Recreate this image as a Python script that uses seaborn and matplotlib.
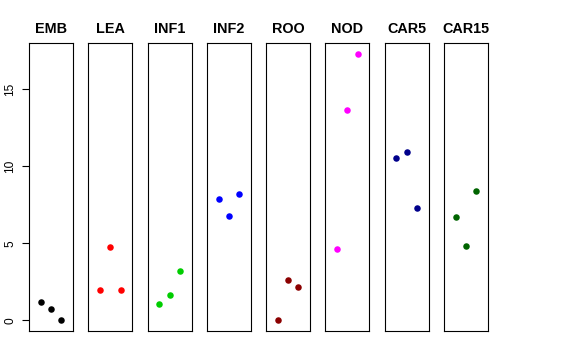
import matplotlib
matplotlib.use('Agg')
import matplotlib.pyplot as plt
import seaborn as sns
import pandas as pd

# 조직별 값 (반복 3개)
tissues = ['EMB', 'LEA', 'INF1', 'INF2', 'ROO', 'NOD', 'CAR5', 'CAR15']
colors = ['black', 'red', '#00CD00', 'blue', '#8B0000', 'magenta', '#00008B', '#006400']
rep = [1, 2, 3]
emb = [1.17, 0.72, 0.0]
lea = [2.0, 4.77, 2.0]
inf1 = [1.06, 1.67, 3.23]
inf2 = [7.85, 6.79, 8.22]
roo = [0.0, 2.64, 2.17]
nod = [4.64, 13.68, 17.32]
car5 = [10.56, 10.95, 7.31]
car15 = [6.74, 4.83, 8.37]
values = [emb, lea, inf1, inf2, roo, nod, car5, car15]
yticks = [0, 5, 10, 15]

sns.set_style('white')
plt.rcParams['font.family'] = ['Liberation Sans', 'DejaVu Sans']
plt.rcParams['text.color'] = 'black'
plt.rcParams['axes.labelcolor'] = 'black'
plt.rcParams['ytick.color'] = 'black'

fig, axes = plt.subplots(1, 8, figsize=(5.76, 3.6), dpi=100, sharey=True)
fig.subplots_adjust(left=29/576, right=488/576, top=1-43/360, bottom=1-331/360, wspace=15/44)

ymax = max(max(v) for v in values)
for ax, name, vals, col in zip(axes, tissues, values, colors):
    df = pd.DataFrame({'rep': rep, 'val': vals})
    sns.scatterplot(data=df, x='rep', y='val', color=col, s=22, linewidth=0, ax=ax)
    ax.set_xlim(-0.16, 4.16)
    ax.set_ylim(-0.04 * ymax, ymax * 1.04)
    ax.set_title(name, fontsize=10.4, fontweight='bold', pad=7, color='black')
    ax.set_xticks([])
    ax.set_xlabel('')
    ax.set_ylabel('')
    for sp in ax.spines.values():
        sp.set_color('black')
        sp.set_linewidth(0.8)
    ax.tick_params(left=False, labelleft=False)

ax0 = axes[0]
ax0.set_yticks(yticks)
ax0.tick_params(left=True, labelleft=True, length=5, width=0.8, color='black',
                labelcolor='black', labelsize=8.6, pad=4)
for lab in ax0.get_yticklabels():
    lab.set_rotation(90)
    lab.set_va('center')

fig.savefig('out.png', dpi=100)
